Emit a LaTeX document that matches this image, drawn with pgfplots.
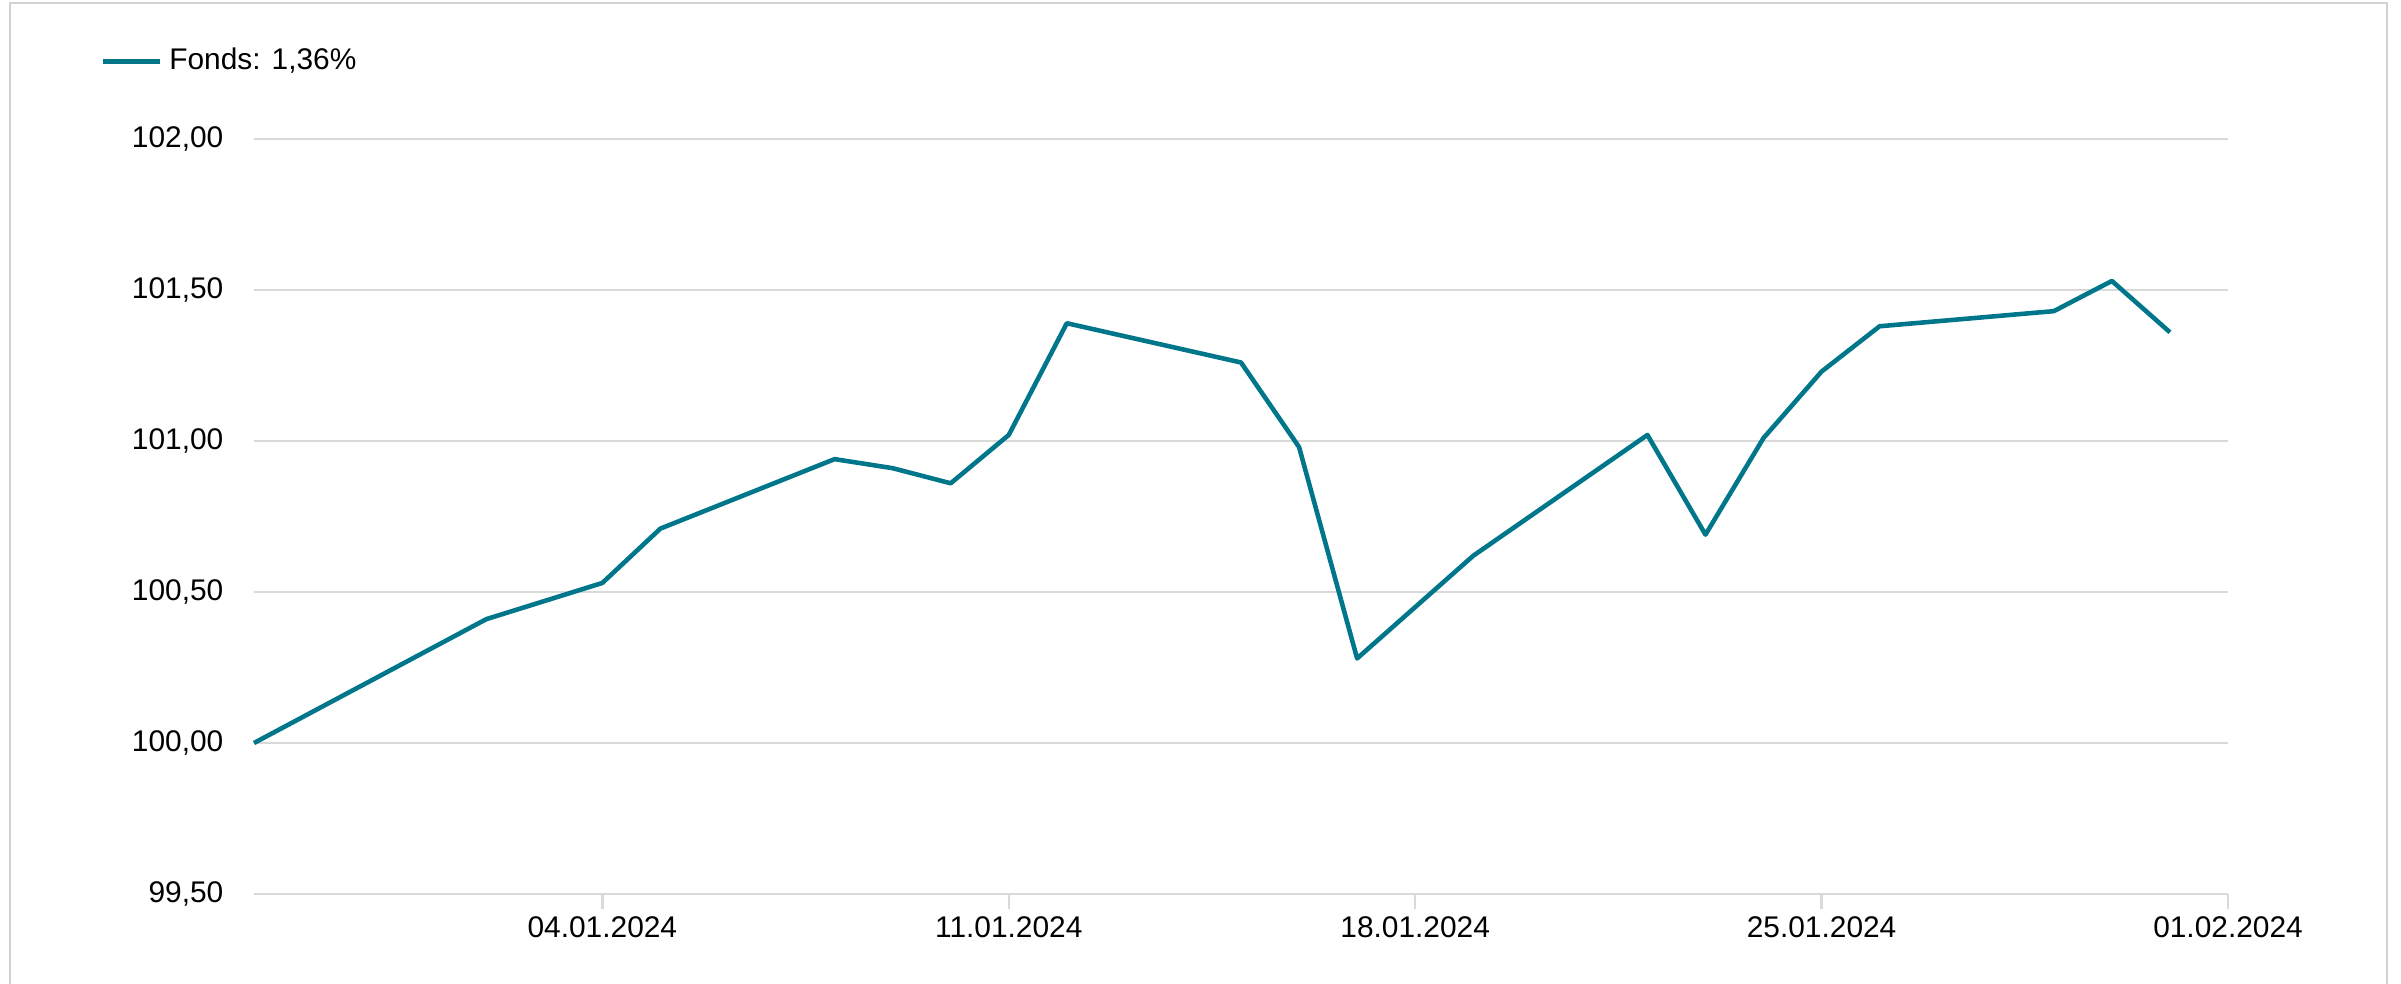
\documentclass[border=0pt]{standalone}
\usepackage{pgfplots}
\pgfplotsset{compat=1.18}
\usepackage{fontspec}
\setmainfont{Liberation Sans}
\definecolor{fondsteal}{RGB}{0,118,138}
\definecolor{gridgray}{RGB}{217,217,217}
\definecolor{framegray}{RGB}{210,210,210}

\begin{document}
\fontsize{8.5}{10}\selectfont
\begin{tikzpicture}
\useasboundingbox (-2.54,-0.89) rectangle (21.47,8.94);
\draw[framegray, line width=0.5pt] (-2.44,-1.2) -- (-2.44,8.91) -- (21.33,8.91) -- (21.33,-1.2);
\begin{axis}[
  name=ax, at={(0,0)}, anchor=south west,
  scale only axis, width=19.74cm, height=7.55cm,
  xmin=-2, xmax=32, ymin=99.5, ymax=102,
  axis line style={draw=none},
  ytick={99.5,100,100.5,101,101.5,102},
  xtick={4,11,18,25,32},
  xticklabels={04.01.2024,11.01.2024,18.01.2024,25.01.2024,01.02.2024},
  yticklabel style={/pgf/number format/fixed, /pgf/number format/fixed zerofill,
    /pgf/number format/precision=2, /pgf/number format/use comma,
    /pgf/number format/assume math mode=true, xshift=-0.2cm},
  ytick style={draw=none}, xtick style={draw=none},
  ymajorgrids, grid style={draw=gridgray, line width=0.7pt},
  tick label style={font=\fontsize{8.5}{10}\selectfont},
  xticklabel style={yshift=-0.12cm},
  clip=false,
  legend style={at={(-0.078,1.103)}, anchor=west, draw=none, fill=none, inner sep=0pt,
    font=\fontsize{8.5}{10}\selectfont},
  legend image code/.code={\draw[#1] (0cm,0cm) -- (0.57cm,0cm);},
]
\addplot[color=fondsteal, line width=1.3pt, line join=round] coordinates {
(-2,100.00) (2,100.41) (4,100.53) (5,100.71) (8,100.94) (9,100.91) (10,100.86)
(11,101.02) (12,101.39) (15,101.26) (16,100.98) (17,100.28) (18,100.45) (19,100.62)
(22,101.02) (23,100.69) (24,101.01) (25,101.23) (26,101.38) (29,101.43) (30,101.53) (31,101.36)};
\addlegendentry{Fonds: 1,36\%}
\pgfplotsinvokeforeach{4,11,18,25,32}{
  \draw[gridgray, line width=0.7pt] (axis cs:#1,99.5) -- ([yshift=-0.15cm]axis cs:#1,99.5);
}
\end{axis}
\end{tikzpicture}
\end{document}
